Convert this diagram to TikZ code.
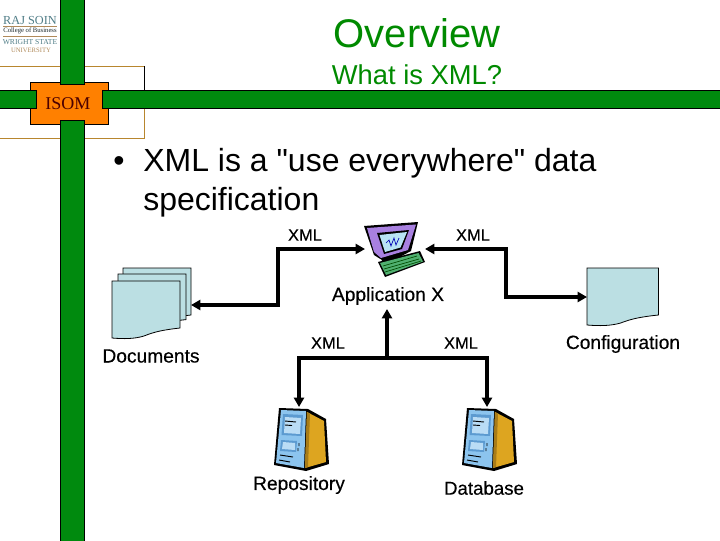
\documentclass[tikz,border=0pt]{standalone}
\usepackage{fontspec}
\setmainfont{Liberation Sans}
\newfontfamily\serifx{Liberation Serif}
\newfontfamily\bodyf{Liberation Sans}
\newfontfamily\boldish[FakeBold=0.35]{Liberation Sans}
\usetikzlibrary{arrows.meta}
\definecolor{barg}{HTML}{008A0E}
\definecolor{titleg}{HTML}{008A00}
\definecolor{orng}{HTML}{FF8000}
\definecolor{tanl}{HTML}{B8862E}
\definecolor{docb}{HTML}{BBDFE3}
\definecolor{logob}{HTML}{4F7C86}
\definecolor{logor}{HTML}{B08A5A}
\definecolor{srvfront}{HTML}{8CC4EE}
\definecolor{srvpanel}{HTML}{5C9AD0}
\definecolor{srvgold}{HTML}{DDA520}
\definecolor{srvdark}{HTML}{A87C18}
\definecolor{pcpurple}{HTML}{A880E0}
\definecolor{pcscreen}{HTML}{B8E4F4}
\definecolor{pcgreen}{HTML}{50B070}
\newcommand{\fsz}[1]{\fontsize{#1}{#1}\selectfont}
\tikzset{
  x=0.75pt,y=-0.75pt,
  bar/.style={fill=barg,draw=black,line width=0.6pt},
  lbl/.style={inner sep=0pt,font=\boldish\fsz{12.4}},
  lbig/.style={inner sep=0pt,font=\boldish\fsz{14.4}},
  tips/.style={{Triangle[length=7pt,width=7.5pt]}-{Triangle[length=7pt,width=7.5pt]},line width=2.4pt,line join=miter},
  tip/.style={-{Triangle[length=7pt,width=7.5pt]},line width=2.4pt},
  pics/docsheet/.style={code={
    \draw[fill=docb,line width=0.6pt] (0,0) -- (68,0) -- (68,47)
      .. controls (50,49) and (42,51) .. (32,55)
      .. controls (22,58) and (12,58) .. (0,57) -- cycle;}},
  pics/server/.style={code={
    \fill[black] (-1,-2) -- (28,-1) -- (46,9) -- (49,54) -- (26,61) -- (-6,55) -- cycle;
    \fill[srvgold] (27,2) -- (44,11) -- (46,52) -- (25,58) -- cycle;
    \fill[srvdark] (27,2) -- (30,3.5) -- (28,57) -- (25,58) -- cycle;
    \fill[srvfront] (1,0) -- (26,1) -- (24,58) -- (-4,53) -- cycle;
    \fill[srvpanel] (3,4) -- (23,5) -- (22,26) -- (1.5,25) -- cycle;
    \fill[srvfront!60!white] (5,7) -- (21,8) -- (20,24) -- (4,23) -- cycle;
    \fill[srvpanel] (1,30) -- (17,31) -- (16,42) -- (0,41) -- cycle;
    \fill[srvfront!60!white] (3,32) -- (15,33) -- (15,40) -- (2,39) -- cycle;
    \draw[line width=0.7pt] (5,11) -- (16,12) (5,15) -- (12,15.5) (19,33) -- (19,36) (18,38) -- (18,41) (0,45) -- (13,47) (-1,50) -- (10,52);}},
}
\begin{document}
\begin{tikzpicture}
\useasboundingbox (0,0) rectangle (720,540);
\clip (0,0) rectangle (720,540);
% frame
\draw[tanl,line width=0.6pt] (0,66) -- (144,66);
\draw[black,line width=0.6pt] (144,66) -- (144,90);
\draw[tanl,line width=0.6pt] (144,108) -- (144,138) -- (0,138);
% orange box and bars
\fill[orng,draw=black,line width=0.6pt] (30,82) rectangle (108,124);
\fill[bar] (60,-2) rectangle (84,84);
\fill[bar] (60,120) rectangle (84,542);
\fill[bar] (-2,90) rectangle (36,108);
\fill[bar] (102,90) rectangle (722,108);
\node[inner sep=0pt,text=black!70!red] (isom) at (68,104) {\serifx\fsz{13.5}ISOM};
% logo
\node[inner sep=0pt,text=logob] (l1) at (30,20.5) {\serifx\fsz{9.2}RAJ SOIN};
\draw[logor,line width=0.4pt] (3,26) -- (57,26);
\node[inner sep=0pt,text=black!70!logob] (l2) at (30,30.5) {\serifx\fsz{5}College of Business};
\draw[logor,line width=0.4pt] (3,36) -- (57,36);
\node[inner sep=0pt,text=logob] (l3) at (30,42) {\serifx\fsz{5.7}WRIGHT STATE};
\node[inner sep=0pt,text=logor] (l4) at (31,50) {\serifx\fsz{5}UNIVERSITY};
% titles
\node[inner sep=0pt,text=titleg] (title) at (417,33) {\fsz{30}Overview};
\node[inner sep=0pt,text=titleg] (sub) at (417,75) {\fsz{20.5}What is XML?};
% bullet
\node[inner sep=0pt,anchor=base west] (bul) at (113,171) {\fsz{24}•};
\node[inner sep=0pt,anchor=base west] (b1) at (143,171) {\bodyf\fsz{24}XML is a "use everywhere" data};
\node[inner sep=0pt,anchor=base west] (b2) at (143,210) {\fsz{24}specification};
% documents
\path (123,268) pic {docsheet};
\path (118,274) pic[yscale=0.97] {docsheet};
\path (112,281) pic {docsheet};
\coordinate (docs) at (191,305);
\path (587,268) pic[xscale=1.05] {docsheet};
\coordinate (conf) at (587,297);
% computer
\fill[black] (364,226) -- (418,222) -- (411,251) -- (396,259) -- (399,263) -- (380,266) -- (382,260) -- (374,255) -- cycle;
\fill[pcpurple] (367,228) -- (416,224.5) -- (408,250) -- (381,258) -- (374,252) -- cycle;
\fill[black] (377,233) -- (409,230) -- (402,249) -- (384,254) -- cycle;
\fill[pcscreen] (379.5,235) -- (407,232) -- (400.5,247.5) -- (385,252) -- cycle;
\draw[blue!70!black,line width=0.5pt] (386,243) -- (389,240) -- (391,246) -- (394,238) -- (396,245) -- (399,238);
\fill[black] (378,262) -- (420,251) -- (425,262) -- (385,277) -- cycle;
\fill[pcgreen] (380,263) -- (418.5,253) -- (423,261.5) -- (386,275) -- cycle;
\draw[black!70!green,line width=0.5pt] (383,266) -- (417,256) (384,269) -- (419,259) (385,272) -- (421,261);
\coordinate (pcl) at (365,249);
\coordinate (pcr) at (425,249);
\node[lbig] (appx) at (388,296) {Application X};
\coordinate (appb) at (387,309);
% servers
\path (280,410) pic {server};
\path (468,410) pic {server};
\coordinate (srv1) at (299,407);
\coordinate (srv2) at (487,407);
% connectors
\coordinate (c1) at (278,249);
\coordinate (c2) at (278,305);
\coordinate (c3) at (506,249);
\coordinate (c4) at (506,297);
\coordinate (c5) at (387,358);
\coordinate (c6) at (299,358);
\coordinate (c7) at (487,358);
\draw[tips] (pcl) -- (c1) -- (c2) -- (docs);
\draw[tips] (pcr) -- (c3) -- (c4) -- (conf);
\draw[tips] (srv1) -- (c6) -- (c7) -- (srv2);
\draw[tip] (c5) -- (appb);
% labels
\node[lbl] (x1) at (305,235) {XML};
\node[lbl] (x2) at (473,235) {XML};
\node[lbl] (x3) at (328,343) {XML};
\node[lbl] (x4) at (461,343) {XML};
\node[lbig] (ldocs) at (151,356) {Documents};
\node[lbig] (lconf) at (623,344) {Configuration};
\node[lbig] (lrep) at (299,485) {Repository};
\node[lbig,font=\boldish\fsz{14}] (ldb) at (484,488) {Database};
\end{tikzpicture}
\end{document}
